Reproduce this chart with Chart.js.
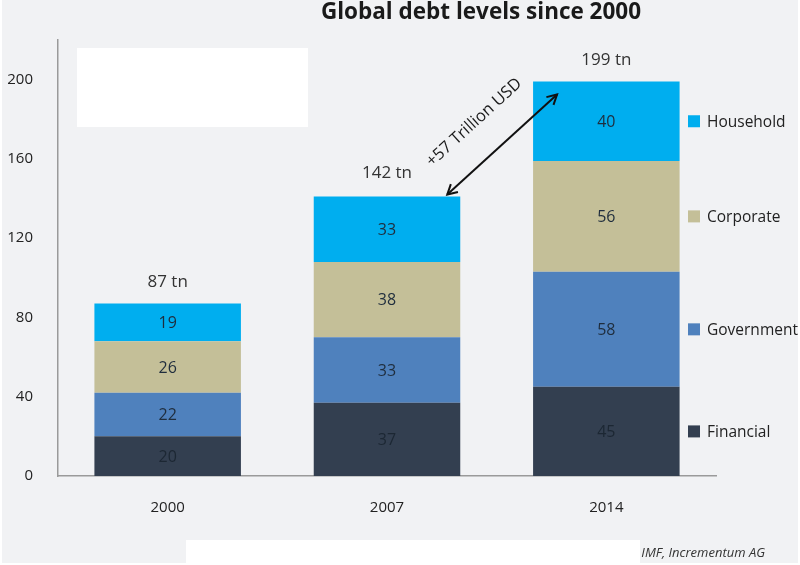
<!DOCTYPE html>
<html>
<head>
<meta charset="utf-8">
<script src="https://cdn.jsdelivr.net/npm/chart.js@4.4.1/dist/chart.umd.min.js"></script>
<style>
  body { margin: 0; background: #fff; }
  canvas { display: block; }
</style>
</head>
<body>
<canvas id="canvas" width="800" height="565"></canvas>
<script>
// data
let years = ["2000", "2007", "2014"];
let financial = [20, 37, 45];
let government = [22, 33, 58];
let corporate = [26, 38, 56];
let household = [19, 33, 40];
let totals = [87, 142, 199];
let yTicks = [0, 40, 80, 120, 160, 200];

let FONT = "'Open Sans', 'Noto Sans', sans-serif";

let series = [
    { label: "Financial", data: financial, color: "#333f50" },
    { label: "Government", data: government, color: "#4f81bd" },
    { label: "Corporate", data: corporate, color: "#c4bf98" },
    { label: "Household", data: household, color: "#00aeef" }
];

// background, white boxes, title, source
let decorPlugin = {
    id: "decor",
    beforeDraw(chart) {
        let ctx = chart.ctx;
        ctx.save();
        ctx.fillStyle = "#ffffff";
        ctx.fillRect(0, 0, 800, 565);
        ctx.fillStyle = "#f1f2f4";
        ctx.fillRect(2, 0, 796, 563);
        ctx.fillStyle = "#ffffff";
        ctx.fillRect(77, 48, 231, 79);
        ctx.fillRect(186, 540, 454, 25);

        ctx.fillStyle = "#1a1a1a";
        ctx.font = "bold 22.5px " + FONT;
        ctx.textAlign = "center";
        ctx.textBaseline = "middle";
        ctx.fillText("Global debt levels since 2000", 481, 13);

        ctx.fillStyle = "#333333";
        ctx.font = "italic 13px " + FONT;
        ctx.textAlign = "right";
        ctx.fillText("IMF, Incrementum AG", 765, 553);
        ctx.restore();
    }
};

// segment values, totals, legend beside last bar, arrow
let labelPlugin = {
    id: "labels",
    afterDatasetsDraw(chart) {
        let ctx = chart.ctx;
        let y = chart.scales.y;
        ctx.save();
        ctx.textAlign = "center";
        ctx.textBaseline = "middle";

        chart.data.datasets.forEach((ds, i) => {
            let meta = chart.getDatasetMeta(i);
            meta.data.forEach((bar, j) => {
                ctx.fillStyle = i === 0 ? "#1c2733" : "#1f2d3d";
                ctx.font = "16px " + FONT;
                ctx.fillText(ds.data[j], bar.x, (bar.y + bar.base) / 2 + 1);
            });
        });

        let top = chart.getDatasetMeta(series.length - 1).data;
        ctx.fillStyle = "#333333";
        ctx.font = "17px " + FONT;
        top.forEach((bar, j) => {
            ctx.fillText(totals[j] + " tn", bar.x, y.getPixelForValue(totals[j]) - 21);
        });

        // legend, each item level with its segment in the last bar
        let last = years.length - 1;
        ctx.textAlign = "left";
        ctx.font = "15.5px " + FONT;
        chart.data.datasets.forEach((ds, i) => {
            let bar = chart.getDatasetMeta(i).data[last];
            let cy = (bar.y + bar.base) / 2;
            ctx.fillStyle = ds.backgroundColor;
            ctx.fillRect(688, cy - 6, 12, 12);
            ctx.fillStyle = "#222222";
            ctx.fillText(ds.label, 707, cy + 1);
        });

        // double arrow between the 2007 and 2014 tops
        let b07 = top[1], b14 = top[2];
        let x1 = b07.x + b07.width / 2 - 13, y1 = y.getPixelForValue(totals[1]);
        let x2 = b14.x - b14.width / 2 + 24, y2 = y.getPixelForValue(192.5);
        ctx.strokeStyle = "#111111";
        ctx.lineWidth = 2;
        ctx.beginPath();
        ctx.moveTo(x1, y1);
        ctx.lineTo(x2, y2);
        ctx.stroke();
        let ang = Math.atan2(y2 - y1, x2 - x1);
        [[x2, y2, ang], [x1, y1, ang + Math.PI]].forEach(([hx, hy, a]) => {
            ctx.beginPath();
            ctx.moveTo(hx - 11 * Math.cos(a - 0.5), hy - 11 * Math.sin(a - 0.5));
            ctx.lineTo(hx, hy);
            ctx.lineTo(hx - 11 * Math.cos(a + 0.5), hy - 11 * Math.sin(a + 0.5));
            ctx.stroke();
        });

        ctx.translate((x1 + x2) / 2 - 28, (y1 + y2) / 2 - 22);
        ctx.rotate(ang);
        ctx.textAlign = "center";
        ctx.fillStyle = "#1a1a1a";
        ctx.font = "16.5px " + FONT;
        ctx.fillText("+57 Trillion USD", 0, 0);
        ctx.restore();
    }
};

let debtChart = new Chart(document.getElementById("canvas"), {
    type: "bar",
    data: {
        labels: years,
        datasets: series.map(s => ({
            label: s.label,
            data: s.data,
            backgroundColor: s.color,
            borderWidth: 0,
            categoryPercentage: 1,
            barPercentage: 0.668
        }))
    },
    options: {
        responsive: false,
        animation: false,
        devicePixelRatio: 1,
        layout: { padding: { top: 40, right: 84, left: 0, bottom: 0 } },
        plugins: {
            legend: { display: false },
            title: { display: false },
            tooltip: { enabled: false }
        },
        scales: {
            x: {
                stacked: true,
                grid: { display: false, drawTicks: false },
                border: { display: true, color: "#9a9a9a", width: 1.5 },
                ticks: { color: "#222222", font: { family: FONT, size: 15 }, padding: 23 },
                afterFit(scale) { scale.height = 89; }
            },
            y: {
                stacked: true,
                min: 0,
                max: 220,
                grid: { display: false, drawTicks: false },
                border: { display: true, color: "#9a9a9a", width: 1.5 },
                afterBuildTicks(scale) {
                    scale.ticks = yTicks.map(v => ({ value: v }));
                },
                ticks: { color: "#222222", font: { family: FONT, size: 15 }, padding: 25 },
                afterFit(scale) { scale.width = 58; }
            }
        }
    },
    plugins: [decorPlugin, labelPlugin]
});
</script>
</body>
</html>
